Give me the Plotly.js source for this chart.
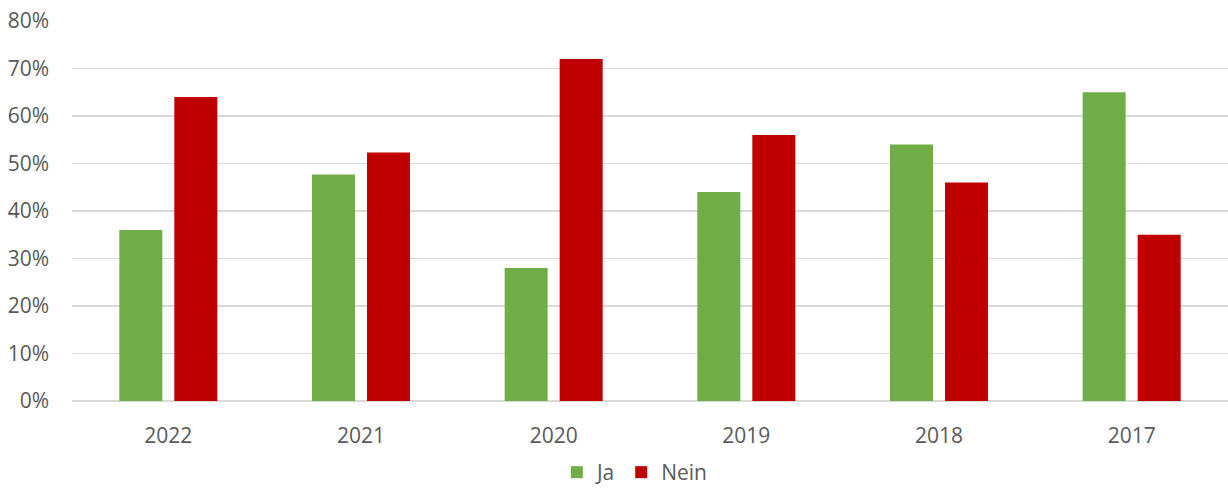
<!DOCTYPE html>
<html><head><meta charset="utf-8">
<script src="https://cdn.plot.ly/plotly-3.0.1.min.js"></script>
<style>body{margin:0;background:#fff}#c{width:1228px;height:493px}</style>
</head><body><div id="c"></div>
<script>
const years = ["2022","2021","2020","2019","2018","2017"];
const ja = [0.36, 0.477, 0.28, 0.44, 0.54, 0.65];
const nein = [0.64, 0.523, 0.72, 0.56, 0.46, 0.35];
const yTicks = [0,0.1,0.2,0.3,0.4,0.5,0.6,0.7,0.8];
const yTickText = ["0%","10%","20%","30%","40%","50%","60%","70%","80%"];
const font = {family:"Open Sans, Noto Sans, sans-serif", size:21, color:"#595959"};
Plotly.newPlot("c", [
  {type:"bar", name:"Ja", x:years, y:ja, marker:{color:"#70ad47"}, hoverinfo:"none"},
  {type:"bar", name:"Nein", x:years, y:nein, marker:{color:"#c00000"}, hoverinfo:"none"}
], {
  width:1228, height:493,
  margin:{l:72, r:0, t:21, b:92, autoexpand:false},
  paper_bgcolor:"#fff", plot_bgcolor:"#fff",
  font:font,
  barmode:"group", bargap:0.429, bargroupgap:0.218,
  xaxis:{type:"category", automargin:false, showgrid:false, zeroline:false, showline:false, ticks:"", tickfont:font, ticklabelstandoff:20},
  yaxis:{range:[0,0.8], automargin:false, tickvals:yTicks, ticktext:yTickText, showgrid:true, gridcolor:"#d9d9d9", gridwidth:1.5, zeroline:true, zerolinecolor:"#d9d9d9", zerolinewidth:1.5, showline:false, ticks:"", tickfont:font, ticklabelstandoff:22, fixedrange:true},
  showlegend:true,
  legend:{orientation:"h", x:0.517, xanchor:"center", xref:"container", yref:"container", y:-0.016, yanchor:"bottom", font:font, itemwidth:30, traceorder:"normal"}
}, {displayModeBar:false, staticPlot:true});
</script></body></html>
